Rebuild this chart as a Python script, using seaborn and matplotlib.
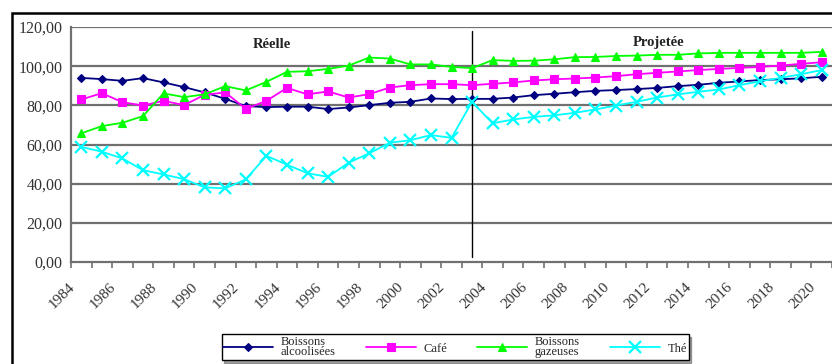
import numpy as np
import pandas as pd
import matplotlib
matplotlib.use("Agg")
import matplotlib.pyplot as plt
from matplotlib.patches import Rectangle
from matplotlib.lines import Line2D
from matplotlib.transforms import ScaledTranslation
import seaborn as sns

# ---- data -------------------------------------------------------------
years = list(range(1984, 2021))

alcool = [94.0, 93.4, 92.5, 93.9, 91.7, 89.3, 86.6, 83.3, 79.6, 79.1,
          79.3, 79.3, 78.1, 78.9, 80.1, 81.3, 81.8, 83.5, 83.2, 83.3,
          83.3, 84.0, 85.2, 85.9, 86.7, 87.4, 87.8, 88.3, 88.9, 89.8,
          90.5, 91.5, 92.2, 92.9, 93.3, 93.8, 94.6]

cafe = [83.0, 86.2, 81.6, 79.9, 82.3, 80.1, 85.4, 86.6, 78.2, 82.3,
        88.9, 85.6, 87.1, 84.0, 85.7, 89.1, 90.3, 90.8, 90.8, 90.3,
        91.0, 91.7, 92.7, 93.3, 93.7, 94.2, 94.9, 95.9, 96.6, 97.3,
        98.0, 98.6, 99.1, 99.6, 100.3, 101.2, 102.0]

gazeuses = [65.7, 69.4, 71.1, 74.5, 86.1, 84.2, 85.6, 89.8, 87.6, 92.0,
            97.1, 97.4, 98.6, 100.3, 104.4, 103.9, 100.9, 100.9, 99.6, 99.0,
            103.1, 102.7, 102.8, 103.5, 104.6, 104.7, 105.2, 105.4, 105.8, 105.8,
            106.5, 106.8, 106.8, 106.8, 106.8, 106.8, 107.3]

the = [58.8, 56.3, 52.9, 46.9, 44.7, 42.3, 38.1, 37.6, 42.2, 54.2,
       49.7, 45.3, 43.5, 50.7, 55.5, 60.9, 62.2, 64.8, 63.4, 81.8,
       70.8, 72.8, 74.1, 74.9, 76.2, 77.9, 79.9, 81.8, 84.0, 85.6,
       86.9, 88.1, 90.3, 92.3, 94.0, 95.9, 98.0]

series_names = ["Boissons\nalcoolisées", "Café", "Boissons\ngazeuses", "Thé"]
series_values = [alcool, cafe, gazeuses, the]

split_year = 2003
period_labels = ["Réelle", "Projetée"]

y_ticks = [0, 20, 40, 60, 80, 100, 120]
y_tick_labels = ["0,00", "20,00", "40,00", "60,00", "80,00", "100,00", "120,00"]
x_label_years = list(range(1984, 2021, 2))

# ---- styling ----------------------------------------------------------
colors = ["#000080", "#ff00ff", "#00ff00", "#00ffff"]
markers = ["D", "s", "^", "x"]
msizes = [4.2, 5.2, 5.8, 8.5]

sns.set_theme(style="white")
plt.rcParams["font.family"] = ["Liberation Serif", "DejaVu Serif"]

fig = plt.figure(figsize=(8.32, 3.64), dpi=100)
ax = fig.add_axes([71 / 832, 1 - 262 / 364, 1 - 71 / 832, (262 - 27) / 364])

df = pd.DataFrame({"Année": years})
for name, vals in zip(series_names, series_values):
    df[name] = vals
long = df.melt(id_vars="Année", var_name="Série", value_name="Valeur")

for name, col, mk, ms in zip(series_names, colors, markers, msizes):
    sub = long[long["Série"] == name]
    sns.lineplot(data=sub, x="Année", y="Valeur", ax=ax, color=col,
                 marker=mk, markersize=ms, markeredgecolor=col,
                 markeredgewidth=1.6 if mk == "x" else 0.8,
                 linewidth=1.3, legend=False, clip_on=True, zorder=3)

# gridlines
ax.set_ylim(0, 120)
ax.set_xlim(1983.5, 2020.19)
ax.set_yticks(y_ticks)
ax.set_yticklabels(y_tick_labels, fontsize=11.5)
for yv in y_ticks[1:]:
    ax.axhline(yv, color="#707070", lw=1.6, zorder=1)

# period divider
ax.axvline(split_year, color="black", lw=1.0, ymax=0.985, ymin=0.02, zorder=2)
ax.text(1993.25, 111, period_labels[0], ha="center", va="center",
        fontsize=10.5, fontweight="bold", color="#222222")
ax.text(2012.05, 112, period_labels[1], ha="center", va="center",
        fontsize=10.5, fontweight="bold", color="#222222")

# axes lines and ticks
for s in ["top", "right"]:
    ax.spines[s].set_visible(False)
for s in ["left", "bottom"]:
    ax.spines[s].set_color("#707070")
    ax.spines[s].set_linewidth(1.6)
ax.tick_params(axis="y", which="major", direction="out", length=5,
               width=1.2, color="#707070", pad=1, labelcolor="#333333")

ax.set_xticks(x_label_years)
ax.set_xticklabels([str(y) for y in x_label_years], rotation=45,
                   ha="right", va="top", fontsize=11, color="#333333")
ax.tick_params(axis="x", which="major", length=0, pad=13)
ax.set_xticks(np.arange(1983.5, 2021, 1), minor=True)
ax.tick_params(axis="x", which="minor", direction="out", length=4,
               width=1.2, color="#707070", bottom=True)
shift = ScaledTranslation(-4 / 100, 0, fig.dpi_scale_trans)
for lab in ax.get_xticklabels():
    lab.set_transform(lab.get_transform() + shift)

ax.set_xlabel("")
ax.set_ylabel("")
ax.grid(False)

# legend
handles = [Line2D([0], [0], color=c, marker=m, markersize=ms,
                  markeredgecolor=c, markeredgewidth=1.6 if m == "x" else 0.8,
                  lw=1.3)
           for c, m, ms in zip(colors, markers, msizes)]
leg = fig.legend(handles, series_names, loc="center", ncol=4,
                 bbox_to_anchor=(455 / 832, 1 - 347 / 364),
                 fontsize=9, frameon=True, fancybox=False, shadow=True,
                 handlelength=4.0, columnspacing=2.4, labelspacing=0.1,
                 borderpad=0.15, handletextpad=0.6)
leg.get_frame().set_edgecolor("black")
leg.get_frame().set_linewidth(1.0)
for t in leg.get_texts():
    t.set_linespacing(0.8)

# chart area frame
fig.add_artist(Rectangle((12 / 832, -0.2), 2.0, (1 - 13 / 364) + 0.2,
                         transform=fig.transFigure, fill=False,
                         edgecolor="black", lw=1.8))

fig.savefig("out.png", dpi=100)
